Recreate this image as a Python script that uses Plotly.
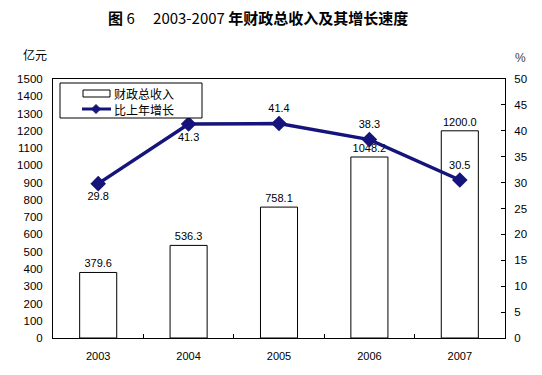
import plotly.graph_objects as go

years = ["2003", "2004", "2005", "2006", "2007"]
revenue = [379.6, 536.3, 758.1, 1048.2, 1200.0]
growth = [29.8, 41.3, 41.4, 38.3, 30.5]
growth_pos = ["bottom center", "bottom center", "top center", "top center", "top center"]
series_names = ["财政总收入", "比上年增长"]

FONT = "Liberation Sans, Arial, Noto Sans CJK SC, sans-serif"
CJK = "Noto Sans CJK SC, Liberation Sans, sans-serif"
NAVY = "#14147a"

W, H = 542, 375
ML, MR, MT, MB = 53, 37, 79, 37
PW, PH = W - ML - MR, H - MT - MB


def px(x):
    return (x - ML) / PW


def py(y):
    return (H - MB - y) / PH


fig = go.Figure()
fig.add_trace(go.Bar(
    x=years, y=revenue, name=series_names[0],
    marker=dict(color="white", line=dict(color="black", width=1)),
    width=0.41,
    text=[f"{v:.1f}" for v in revenue], textposition="outside",
    textfont=dict(size=11, color="black", family=FONT),
    cliponaxis=False, showlegend=False,
))
fig.add_trace(go.Scatter(
    x=years, y=growth, name=series_names[1], yaxis="y2",
    mode="lines+markers+text",
    line=dict(color=NAVY, width=3.5),
    marker=dict(symbol="diamond", size=12, color=NAVY),
    text=[f"{v:.1f}" for v in growth], textposition=growth_pos,
    textfont=dict(size=11, color="black", family=FONT),
    cliponaxis=False, showlegend=False,
))

# manual legend (box, keys, labels) in pixel positions
shapes = [
    dict(type="rect", xref="paper", yref="paper",
         x0=px(60), x1=px(202), y0=py(118), y1=py(83),
         line=dict(color="black", width=1), fillcolor="white", layer="above"),
    dict(type="rect", xref="paper", yref="paper",
         x0=px(83), x1=px(110), y0=py(97), y1=py(90),
         line=dict(color="black", width=1), fillcolor="white", layer="above"),
    dict(type="line", xref="paper", yref="paper",
         x0=px(82), x1=px(111), y0=py(109), y1=py(109),
         line=dict(color=NAVY, width=3), layer="above"),
    dict(type="path", xref="paper", yref="paper",
         path=(f"M {px(96)} {py(104.5)} L {px(100.5)} {py(109)} "
               f"L {px(96)} {py(113.5)} L {px(91.5)} {py(109)} Z"),
         line=dict(color=NAVY, width=1), fillcolor=NAVY, layer="above"),
]

fig.update_layout(
    width=W, height=H,
    paper_bgcolor="white", plot_bgcolor="white",
    margin=dict(l=ML, r=MR, t=MT, b=MB, autoexpand=False),
    font=dict(family=FONT, size=11, color="black"),
    showlegend=False,
    shapes=shapes,
    xaxis=dict(
        type="category", showline=True, linecolor="black", linewidth=1, mirror=True,
        ticks="inside", tickson="boundaries", ticklen=4, tickcolor="black",
        showgrid=False, tickfont=dict(size=11), ticklabelstandoff=8,
        automargin=False,
    ),
    yaxis=dict(
        range=[0, 1500], dtick=100, showline=True, linecolor="black", linewidth=1,
        showgrid=False, ticks="", zeroline=False, tickfont=dict(size=11.5),
        ticklabelstandoff=7, automargin=False,
    ),
    yaxis2=dict(
        range=[0, 50], dtick=5, overlaying="y", side="right",
        showline=True, linecolor="black", linewidth=1,
        ticks="inside", ticklen=4, tickcolor="black",
        showgrid=False, zeroline=False, tickfont=dict(size=11.5),
        ticklabelstandoff=6, automargin=False,
    ),
    annotations=[
        dict(text="<b>图</b> 6　 2003-2007 <b>年财政总收入及其增长速度</b>",
             x=px(258), y=py(17), xref="paper", yref="paper", showarrow=False,
             xanchor="center", yanchor="middle",
             font=dict(family=CJK, size=15, color="black")),
        dict(text="亿元", x=px(35), y=py(55), xref="paper", yref="paper", showarrow=False,
             xanchor="center", yanchor="middle",
             font=dict(family=CJK, size=12, color="black")),
        dict(text="%", x=px(520), y=py(58), xref="paper", yref="paper", showarrow=False,
             xanchor="center", yanchor="middle",
             font=dict(family=FONT, size=12, color="#444")),
        dict(text=series_names[0], x=px(112), y=py(93), xref="paper", yref="paper",
             showarrow=False, xanchor="left", yanchor="middle",
             font=dict(family=CJK, size=12, color="black")),
        dict(text=series_names[1], x=px(112), y=py(109), xref="paper", yref="paper",
             showarrow=False, xanchor="left", yanchor="middle",
             font=dict(family=CJK, size=12, color="black")),
    ],
)

fig.write_html("out.html", post_script="document.body.style.margin='0';",
               config={"displayModeBar": False})
